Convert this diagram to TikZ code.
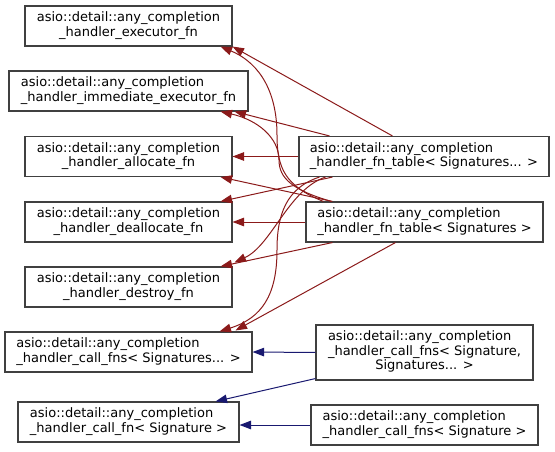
\documentclass[tikz,border=0pt]{standalone}
\usepackage{fontspec}
\setmainfont{DejaVu Sans}
\usetikzlibrary{arrows.meta,calc}

\definecolor{edgered}{HTML}{8B1A1A}
\definecolor{edgeblue}{HTML}{191970}
\definecolor{boxline}{HTML}{404040}

% first lines left-aligned, last line centred
\newcommand{\twolines}[2]{\begin{tabular}{@{}l@{}}#1\\\multicolumn{1}{@{}c@{}}{#2}\end{tabular}}
\newcommand{\threelines}[3]{\begin{tabular}{@{}l@{}}#1\\#2\\\multicolumn{1}{@{}c@{}}{#3}\end{tabular}}

\tikzset{
  classbox/.style={draw=boxline, fill=white, line width=1.1pt, inner sep=0pt,
    minimum height=40pt, text=black, font=\fontsize{13pt}{14.5pt}\selectfont},
  usered/.style={draw=edgered, line width=1pt, -{Triangle[length=11.5pt,width=8.5pt]}},
  useblue/.style={draw=edgeblue, line width=1pt, -{Triangle[length=11.5pt,width=8.5pt]}},
}

\begin{document}
\begin{tikzpicture}[x=1pt,y=-1pt]
\useasboundingbox (0,0) rectangle (555,452);

% left column
\node[classbox, minimum width=207pt] (A) at (128.5,26)
  {\twolines{asio::detail::any\_completion}{\_handler\_executor\_fn}};
\node[classbox, minimum width=239pt] (B) at (128.5,91)
  {\twolines{asio::detail::any\_completion}{\_handler\_immediate\_executor\_fn}};
\node[classbox, minimum width=207pt] (C) at (128.5,156.5)
  {\twolines{asio::detail::any\_completion}{\_handler\_allocate\_fn}};
\node[classbox, minimum width=207pt] (D) at (128.5,222)
  {\twolines{asio::detail::any\_completion}{\_handler\_deallocate\_fn}};
\node[classbox, minimum width=207pt] (E) at (128.5,287)
  {\twolines{asio::detail::any\_completion}{\_handler\_destroy\_fn}};
\node[classbox, minimum width=247pt] (F) at (128.5,352)
  {\twolines{asio::detail::any\_completion}{\_handler\_call\_fns< Signatures... >}};
\node[classbox, minimum width=221pt] (G) at (128.5,422)
  {\twolines{asio::detail::any\_completion}{\_handler\_call\_fn< Signature >}};

% right column
\node[classbox, minimum width=250pt] (H) at (424,156.5)
  {\twolines{asio::detail::any\_completion}{\_handler\_fn\_table< Signatures... >}};
\node[classbox, minimum width=237pt] (I) at (424.5,222)
  {\twolines{asio::detail::any\_completion}{\_handler\_fn\_table< Signatures >}};
\node[classbox, minimum width=217pt, minimum height=55pt] (J) at (424.5,352.5)
  {\threelines{asio::detail::any\_completion}{\_handler\_call\_fns< Signature,}{Signatures... >}};
\node[classbox, minimum width=227pt] (K) at (424.5,425)
  {\twolines{asio::detail::any\_completion}{\_handler\_call\_fns< Signature >}};

% fn_table< Signatures... > uses
\draw[usered] ($(H.north west)+(94,0)$) -- (A.south east);
\draw[usered] ($(H.north west)+(31,0)$) -- ($(B.south east)+(-14,0)$);
\draw[usered] (H.west) -- (C.east);
\draw[usered] ($(H.south west)+(34,0)$) -- ($(D.north east)+(-12,0)$);
\draw[usered] ($(H.south west)+(27,0)$) .. controls (288,190) and (272,245) .. ($(E.north east)+(2,-4)$);
\draw[usered] ($(H.south west)+(21,0)$) .. controls (286,188) and (277,215) .. (277,250)
  .. controls (277,295) and (262,318) .. ($(F.north east)+(-33,0)$);

% fn_table< Signatures > uses
\draw[usered] ($(I.north west)+(18,0)$) .. controls (285,186) and (277,168) .. (277,135)
  .. controls (277,95) and (262,64) .. ($(A.south east)+(-12,0)$);
\draw[usered] ($(I.north west)+(26,0)$) .. controls (292,190) and (279,178) .. (279,160)
  .. controls (279,138) and (258,120) .. ($(B.south east)+(-28,0)$);
\draw[usered] ($(I.north west)+(27,0)$) -- ($(C.south east)+(-12,0)$);
\draw[usered] (I.west) -- (D.east);
\draw[usered] ($(I.south west)+(27,0)$) -- ($(E.north east)+(-12,0)$);
\draw[usered] ($(I.south west)+(90,0)$) -- ($(F.north east)+(-17,-1)$);

% inheritance
\draw[useblue] (J.west) -- (F.east);
\draw[useblue] ($(J.south west)+(0,-2)$) -- ($(G.north east)+(-24,0)$);
\draw[useblue] (K.west) -- (K.west -| G.east);
\end{tikzpicture}
\end{document}
